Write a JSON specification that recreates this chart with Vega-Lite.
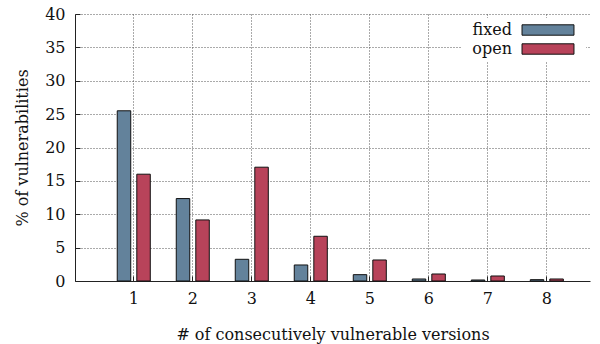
{
  "$schema": "https://vega.github.io/schema/vega-lite/v6.json",
  "width": 515,
  "height": 267,
  "autosize": "none",
  "padding": {"left": 75, "top": 14, "right": 10, "bottom": 63},
  "background": "white",
  "data": {
    "values": [
      {"versions": "1", "status": "fixed", "pct": 25.5},
      {"versions": "1", "status": "open", "pct": 16.0},
      {"versions": "2", "status": "fixed", "pct": 12.35},
      {"versions": "2", "status": "open", "pct": 9.15},
      {"versions": "3", "status": "fixed", "pct": 3.25},
      {"versions": "3", "status": "open", "pct": 17.05},
      {"versions": "4", "status": "fixed", "pct": 2.4},
      {"versions": "4", "status": "open", "pct": 6.7},
      {"versions": "5", "status": "fixed", "pct": 0.95},
      {"versions": "5", "status": "open", "pct": 3.15},
      {"versions": "6", "status": "fixed", "pct": 0.3},
      {"versions": "6", "status": "open", "pct": 1.05},
      {"versions": "7", "status": "fixed", "pct": 0.15},
      {"versions": "7", "status": "open", "pct": 0.75},
      {"versions": "8", "status": "fixed", "pct": 0.2},
      {"versions": "8", "status": "open", "pct": 0.3}
    ]
  },
  "mark": {"type": "bar", "stroke": "#111", "strokeWidth": 1, "opacity": 1},
  "encoding": {
    "x": {
      "field": "versions",
      "type": "ordinal",
      "scale": {"paddingInner": 0.44, "paddingOuter": 0.584, "align": 0.613},
      "axis": {
        "title": "# of consecutively vulnerable versions",
        "labelAngle": 0,
        "bandPosition": 0.5,
        "grid": true,
        "tickSize": -5,
        "labelPadding": 14,
        "titlePadding": 20
      }
    },
    "xOffset": {
      "field": "status",
      "scale": {"domain": ["fixed", "open"], "paddingInner": 0.31, "paddingOuter": 0}
    },
    "y": {
      "field": "pct",
      "type": "quantitative",
      "scale": {"domain": [0, 40], "nice": false},
      "axis": {
        "title": "% of vulnerabilities",
        "values": [0, 5, 10, 15, 20, 25, 30, 35, 40],
        "grid": true,
        "tickSize": -5,
        "labelPadding": 15,
        "titlePadding": 14
      }
    },
    "color": {
      "field": "status",
      "type": "nominal",
      "scale": {"domain": ["fixed", "open"], "range": ["#63829b", "#b8435a"]},
      "legend": {
        "title": null,
        "orient": "top-right",
        "offset": 4,
        "fillColor": "white",
        "padding": 4,
        "symbolType": "M-5,-1H5V1H-5Z M6.1,0",
        "symbolSize": 108,
        "symbolStrokeColor": "#111",
        "symbolStrokeWidth": 1,
        "symbolOpacity": 1,
        "labelAlign": "right",
        "labelOffset": -44,
        "symbolOffset": 75,
        "rowPadding": 3
      }
    }
  },
  "config": {
    "view": {"stroke": null},
    "font": "DejaVu Serif",
    "axis": {
      "labelFont": "DejaVu Serif",
      "titleFont": "DejaVu Serif",
      "labelFontSize": 16,
      "titleFontSize": 16,
      "titleFontWeight": "normal",
      "labelColor": "#111",
      "titleColor": "#111",
      "domainColor": "#222",
      "domainWidth": 1,
      "tickColor": "#222",
      "gridColor": "#555",
      "gridDash": [1, 2],
      "gridWidth": 1,
      "gridOpacity": 1
    },
    "legend": {
      "labelFont": "DejaVu Serif",
      "labelFontSize": 16,
      "labelColor": "#111"
    }
  }
}
